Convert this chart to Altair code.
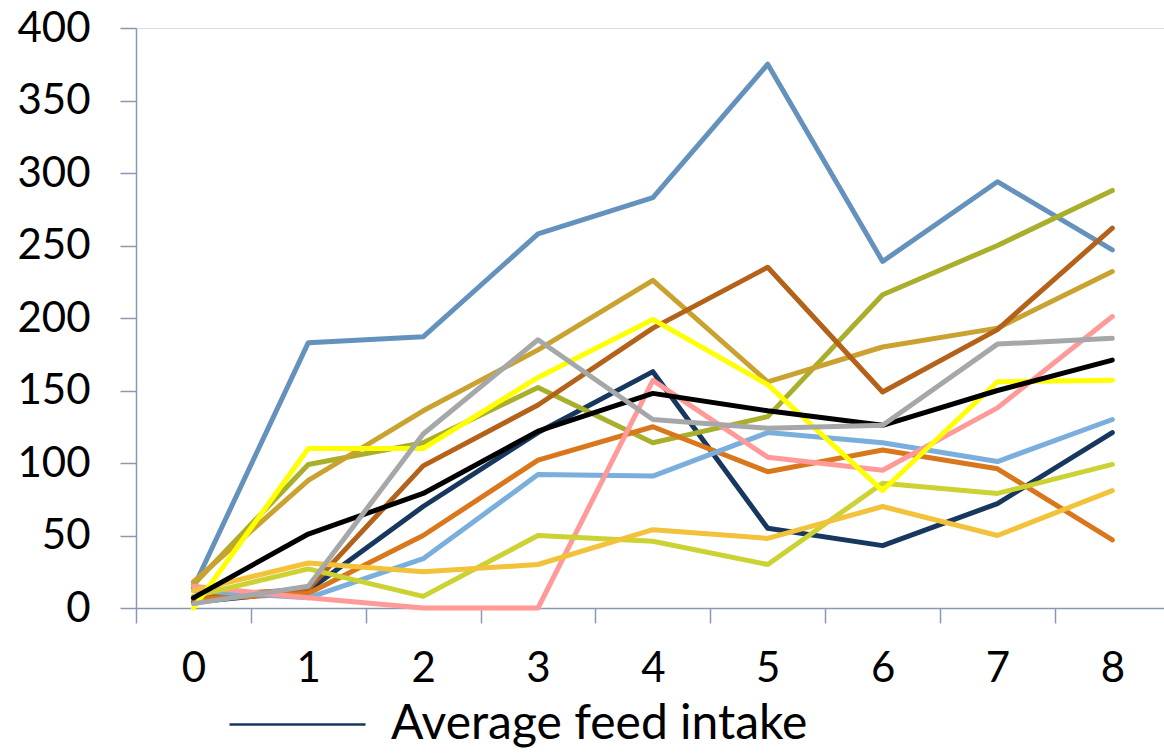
import altair as alt
import pandas as pd

# Week index on the horizontal axis
weeks = [0, 1, 2, 3, 4, 5, 6, 7, 8]

# One list of weekly values per series
avg_feed_intake = [4, 12, 70, 121, 163, 55, 43, 72, 121]
series_2 = [14, 183, 187, 258, 283, 375, 239, 294, 247]
series_3 = [16, 99, 114, 152, 114, 132, 216, 250, 288]
series_4 = [18, 88, 136, 178, 226, 156, 180, 193, 232]
series_5 = [8, 13, 98, 140, 193, 235, 149, 192, 262]
series_6 = [6, 10, 50, 102, 125, 94, 109, 96, 47]
series_7 = [12, 7, 34, 92, 91, 121, 114, 101, 130]
series_8 = [15, 7, 0, 0, 157, 104, 95, 138, 201]
series_9 = [8, 27, 8, 50, 46, 30, 86, 79, 99]
series_10 = [12, 31, 25, 30, 54, 48, 70, 50, 81]
series_11 = [0, 110, 110, 159, 199, 154, 81, 156, 157]
series_12 = [7, 51, 79, 122, 148, 136, 126, 150, 171]
series_13 = [3, 15, 120, 185, 130, 124, 126, 182, 186]

series_names = [
    "Average feed intake", "Series 2", "Series 3", "Series 4", "Series 5",
    "Series 6", "Series 7", "Series 8", "Series 9", "Series 10",
    "Series 11", "Series 12", "Series 13",
]
series_values = [
    avg_feed_intake, series_2, series_3, series_4, series_5, series_6,
    series_7, series_8, series_9, series_10, series_11, series_12, series_13,
]
series_colors = [
    "#17375E", "#6492BD", "#A9AF2A", "#C9A22F", "#B4621A", "#D8771C",
    "#7AAEDD", "#FF9A99", "#CBD232", "#F2C23A", "#FFFF00", "#000000", "#A5A7A9",
]

y_ticks = [0, 50, 100, 150, 200, 250, 300, 350, 400]
x_ticks = [-0.5, 0, 0.5, 1, 1.5, 2, 2.5, 3, 3.5, 4, 4.5, 5, 5.5, 6, 6.5, 7, 7.5, 8]

rows = []
for order, (name, vals) in enumerate(zip(series_names, series_values)):
    for w, v in zip(weeks, vals):
        rows.append({"week": w, "value": v, "series": name, "order": order})
df = pd.DataFrame(rows)

AXIS_COLOR = "#8A99B2"
FONT = "Lato"

# Ticks sit between weeks; labels sit on the weeks themselves
x_axis = alt.Axis(
    values=x_ticks,
    title=None,
    grid=False,
    domainColor=AXIS_COLOR,
    domainWidth=1.5,
    tickColor=AXIS_COLOR,
    tickWidth=1.5,
    tickSize=15,
    tickOpacity={"condition": {"test": "datum.value % 1 !== 0", "value": 1}, "value": 0},
    labelExpr="datum.value % 1 === 0 ? format(datum.value, 'd') : ''",
    labelFont=FONT,
    labelFontSize=42,
    labelColor="#000000",
    labelPadding=45,
    labelBaseline="middle",
    labelFlush=False,
    labelOverlap=False,
)

y_axis = alt.Axis(
    values=y_ticks,
    title=None,
    grid=False,
    domainColor=AXIS_COLOR,
    domainWidth=1.5,
    tickColor=AXIS_COLOR,
    tickWidth=1.5,
    tickSize=16,
    labelFont=FONT,
    labelFontSize=42,
    labelColor="#000000",
    labelPadding=30,
    labelOverlap=False,
)

chart = (
    alt.Chart(df)
    .mark_line(strokeWidth=5, strokeCap="round", strokeJoin="round", clip=False)
    .encode(
        x=alt.X("week:Q", scale=alt.Scale(domain=[-0.5, 8.45], nice=False, zero=False), axis=x_axis),
        y=alt.Y("value:Q", scale=alt.Scale(domain=[0, 400], nice=False), axis=y_axis),
        color=alt.Color(
            "series:N",
            scale=alt.Scale(domain=series_names, range=series_colors),
            legend=alt.Legend(
                values=["Average feed intake"],
                title=None,
                orient="none",
                legendX=92,
                legendY=627,
                symbolType="stroke",
                symbolSize=18496,
                symbolStrokeWidth=2.5,
                symbolStrokeColor="#1F3E7E",
                labelFont=FONT,
                labelFontSize=48,
                labelColor="#000000",
                labelOffset=24,
                labelLimit=0,
            ),
        ),
        order=alt.Order("order:Q"),
    )
    .properties(
        width=1028,
        height=580,
        autosize=alt.AutoSizeParams(type="none"),
        padding={"left": 136, "top": 28, "right": 0, "bottom": 146},
    )
    .configure_view(stroke=None)
    .configure(background="#FFFFFF")
)

chart.save("out.html", embed_options={"renderer": "svg", "actions": False})
